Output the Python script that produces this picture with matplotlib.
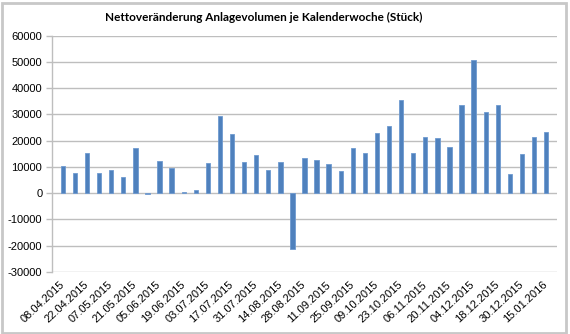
import matplotlib
matplotlib.use("Agg")
import matplotlib.pyplot as plt
from matplotlib.patches import Rectangle
import numpy as np

title = "Nettoveränderung Anlagevolumen je Kalenderwoche (Stück)"

tick_labels = ["08.04.2015", "22.04.2015", "07.05.2015", "21.05.2015", "05.06.2015",
               "19.06.2015", "03.07.2015", "17.07.2015", "31.07.2015", "14.08.2015",
               "28.08.2015", "11.09.2015", "25.09.2015", "09.10.2015", "23.10.2015",
               "06.11.2015", "20.11.2015", "04.12.2015", "18.12.2015", "30.12.2015",
               "15.01.2016"]

values = [10400, 7600, 15500, 7600, 9000, 6300, 17100, -300, 12100, 9500,
          600, 1400, 11600, 29400, 22500, 11800, 14700, 8800, 11900, -21100,
          13300, 12800, 11000, 8300, 17300, 15400, 23100, 25700, 35700, 15500,
          21600, 21200, 17700, 33700, 50800, 31000, 33700, 7500, 15100, 21600,
          23400]

yticks = [-30000, -20000, -10000, 0, 10000, 20000, 30000, 40000, 50000, 60000]

fig = plt.figure(figsize=(5.70, 3.34), dpi=100)
ax = fig.add_axes([52/570, 1 - 272/334, (557 - 52)/570, (272 - 35.7)/334])

x = np.arange(len(values))
ax.bar(x, values, width=0.36, color="#4F81BD", edgecolor="#6F9AD0", linewidth=0.6, zorder=3)

ax.set_ylim(-30000, 60000)
ax.set_xlim(-0.9, len(values) - 0.1)
ax.set_yticks(yticks)
ax.set_yticklabels([str(v) for v in yticks], fontsize=8, family="Liberation Sans")
ax.yaxis.grid(True, color="#BEBEBE", linewidth=1.0, zorder=0)
ax.set_axisbelow(True)

ax.set_xticks(x[::2])
ax.set_xticklabels(tick_labels, rotation=43, ha="right", va="center",
                   rotation_mode="anchor", fontsize=8, family="Liberation Sans")
ax.tick_params(axis="x", length=0, pad=8)
ax.tick_params(axis="y", length=4, color="#BEBEBE", width=1.0, pad=3)

for s in ["top", "right", "bottom"]:
    ax.spines[s].set_visible(False)
ax.spines["left"].set_color("#BEBEBE")
ax.spines["left"].set_linewidth(1.0)

fig.text(264/570, 1 - 17/334, title, ha="center", va="center",
         fontsize=8.5, fontweight="bold", family="Lato")

fig.patches.append(Rectangle((1.5/570, 1.5/334), 1 - 6/570, 1 - 4/334,
                             transform=fig.transFigure, fill=False,
                             edgecolor="#C8C8C8", linewidth=2))

fig.savefig("out.png", dpi=100, facecolor="white")
